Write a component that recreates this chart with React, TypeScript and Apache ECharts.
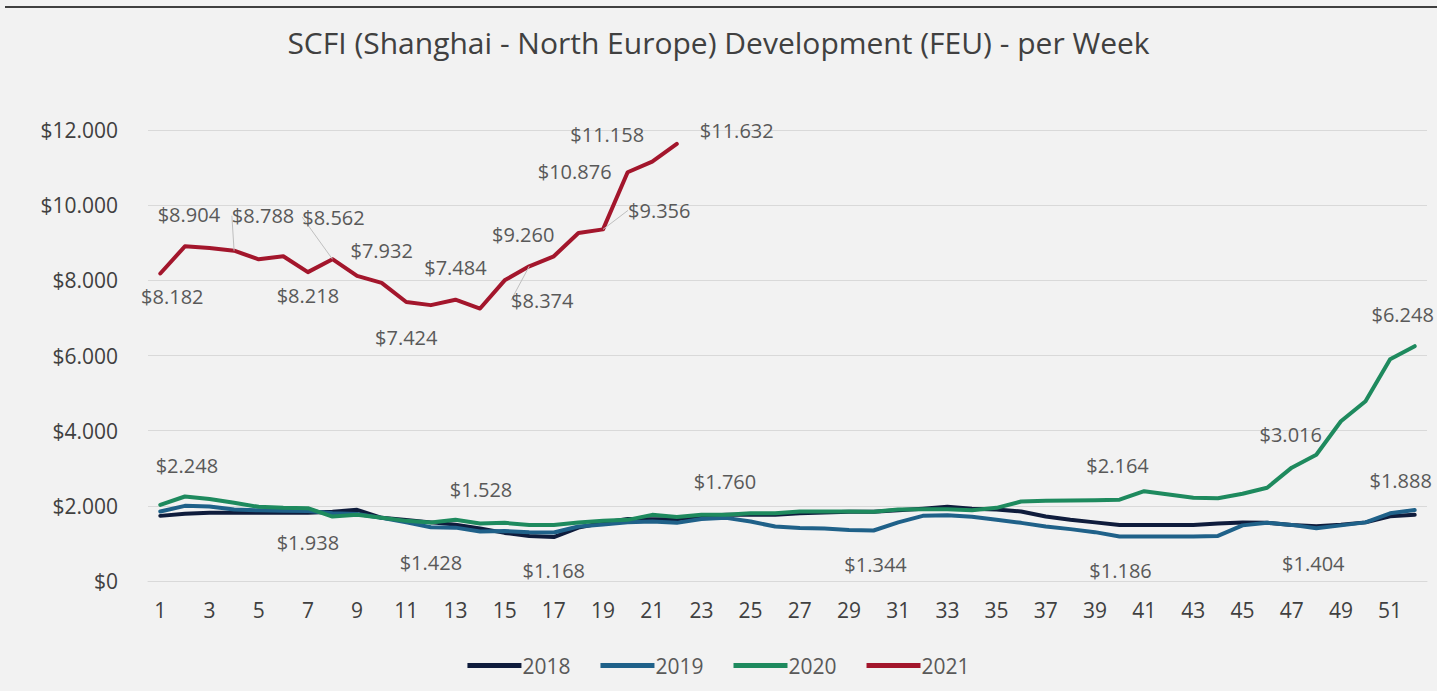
import React, { useEffect, useRef } from "react";
import * as echarts from "echarts";

const weeks: string[] = Array.from({ length: 52 }, (_, i) => String(i + 1));
const yTicks: number[] = [0, 2000, 4000, 6000, 8000, 10000, 12000];

const s2018: number[] = [1733, 1790, 1813, 1813, 1813, 1813, 1813, 1840, 1893, 1680, 1620, 1560, 1500, 1400, 1280, 1200, 1168, 1420, 1550, 1650, 1640, 1640, 1720, 1760, 1760, 1760, 1800, 1820, 1840, 1840, 1880, 1920, 1973, 1920, 1900, 1849, 1715, 1627, 1560, 1493, 1493, 1493, 1493, 1530, 1555, 1547, 1493, 1460, 1500, 1560, 1720, 1760];
const s2019: number[] = [1849, 2000, 1980, 1900, 1880, 1870, 1860, 1800, 1780, 1680, 1560, 1428, 1420, 1316, 1330, 1300, 1290, 1450, 1500, 1560, 1582, 1547, 1650, 1680, 1582, 1449, 1413, 1395, 1360, 1344, 1560, 1733, 1750, 1707, 1627, 1547, 1449, 1380, 1300, 1186, 1186, 1186, 1186, 1200, 1480, 1547, 1493, 1404, 1480, 1560, 1800, 1888];
const s2020: number[] = [2027, 2248, 2180, 2080, 1973, 1947, 1938, 1715, 1760, 1680, 1600, 1555, 1627, 1528, 1547, 1493, 1493, 1555, 1600, 1627, 1760, 1700, 1760, 1760, 1800, 1800, 1849, 1849, 1849, 1840, 1900, 1910, 1910, 1880, 1947, 2115, 2133, 2140, 2150, 2164, 2390, 2300, 2213, 2200, 2320, 2480, 3016, 3360, 4249, 4782, 5900, 6248];
const s2021: number[] = [8182, 8904, 8860, 8788, 8560, 8640, 8218, 8562, 8120, 7932, 7424, 7340, 7484, 7250, 8000, 8374, 8640, 9260, 9356, 10876, 11158, 11632];

const seriesNames: string[] = ["2018", "2019", "2020", "2021"];
const seriesValues: number[][] = [s2018, s2019, s2020, s2021];
const seriesColors: string[] = ["#0f1c3c", "#1f6189", "#1e8a5e", "#a3162c"];

// [series, week, position, dx, dy, leader line]
const labelSpecs: [string, number, string, number, number, boolean][] = [
  ["2021", 1, "bottom", 12, 8, false],
  ["2021", 2, "top", 4, -17, false],
  ["2021", 4, "top", 29, -20, true],
  ["2021", 7, "bottom", 0, 8, false],
  ["2021", 8, "top", 1, -27, true],
  ["2021", 10, "top", 0, -17, false],
  ["2021", 11, "bottom", 0, 21, false],
  ["2021", 13, "top", 0, -17, false],
  ["2021", 16, "bottom", 13, 19, true],
  ["2021", 18, "left", -19, 2, false],
  ["2021", 19, "right", 20, -19, true],
  ["2021", 20, "left", -11, -1, false],
  ["2021", 21, "top", -45, -12, false],
  ["2021", 22, "right", 18, -13, false],
  ["2020", 2, "top", 2, -16, false],
  ["2020", 7, "bottom", 0, 19, false],
  ["2020", 14, "top", 1, -19, false],
  ["2020", 24, "top", -1, -18, false],
  ["2020", 40, "top", -2, -19, false],
  ["2020", 47, "top", -1, -18, false],
  ["2020", 52, "top", -12, -17, false],
  ["2019", 12, "bottom", 0, 20, false],
  ["2019", 30, "bottom", 2, 19, false],
  ["2019", 40, "bottom", 1, 19, false],
  ["2019", 48, "bottom", -3, 20, false],
  ["2019", 52, "top", -14, -15, false],
  ["2018", 17, "bottom", 0, 18, false],
];

const fmt = (v: number) => (v === 0 ? "$0" : "$" + (v / 1000).toFixed(3));
const FONT = "Open Sans";

export default function App() {
  const ref = useRef<HTMLDivElement>(null);
  useEffect(() => {
    if (!ref.current) return;
    const chart = echarts.init(ref.current, null, { renderer: "svg" });
    const series = seriesNames.map((name, si) => {
      const specFor = (idx: number) => labelSpecs.find((s) => s[0] === name && s[1] === idx + 1);
      const data = seriesValues[si].map((v, i) => {
        const spec = specFor(i);
        if (!spec) return { value: v };
        return {
          value: v,
          label: {
            show: true,
            position: spec[2],
            distance: 5,
            formatter: (p: any) => fmt(p.value),
            color: "#595959",
            fontSize: 20,
            fontFamily: FONT,
          },
          labelLine: { show: spec[5] },
        };
      });
      return {
        name,
        type: "line",
        data,
        symbol: "circle",
        symbolSize: 0,
        showSymbol: true,
        showAllSymbol: true,
        lineStyle: { width: 4, color: seriesColors[si], cap: "round", join: "round" },
        itemStyle: { color: seriesColors[si] },
        labelLine: { show: false, lineStyle: { color: "#bfbfbf", width: 1 } },
        labelLayout: (p: any) => {
          const spec = specFor(p.dataIndex);
          return spec ? { dx: spec[3], dy: spec[4], hideOverlap: false } : {};
        },
        emphasis: { disabled: true },
        z: 2 + si,
      };
    });
    chart.setOption({
      animation: false,
      backgroundColor: "#f2f2f2",
      title: {
        text: "SCFI (Shanghai - North Europe) Development (FEU) - per Week",
        left: "center",
        top: 22,
        textStyle: { color: "#404040", fontSize: 30, fontWeight: "normal", fontFamily: FONT },
      },
      legend: {
        bottom: 10,
        left: "center",
        icon: "rect",
        itemWidth: 54,
        itemHeight: 5,
        itemGap: 30,
        textStyle: { color: "#595959", fontSize: 21, fontFamily: FONT, padding: [0, 0, 0, -4] },
        data: seriesNames,
      },
      grid: { left: 148, right: 10, top: 130, bottom: 110, containLabel: false },
      xAxis: {
        type: "category",
        data: weeks,
        boundaryGap: true,
        axisLine: { show: true, lineStyle: { color: "#d9d9d9", width: 1 } },
        axisTick: { show: false },
        axisLabel: { interval: 1, color: "#404040", fontSize: 21, margin: 18, fontFamily: FONT },
      },
      yAxis: {
        type: "value",
        min: yTicks[0],
        max: yTicks[yTicks.length - 1],
        interval: 2000,
        axisLine: { show: false },
        axisTick: { show: false },
        splitLine: { lineStyle: { color: "#d9d9d9", width: 1 } },
        axisLabel: { formatter: fmt, color: "#404040", fontSize: 21, margin: 30, fontFamily: FONT },
      },
      graphic: [
        { type: "line", shape: { x1: 5, y1: 7, x2: 1437, y2: 7 }, style: { stroke: "#404040", lineWidth: 2 } },
      ],
      series,
    });
    return () => chart.dispose();
  }, []);
  return <div ref={ref} style={{ position: "fixed", left: 0, top: 0, width: 1437, height: 691 }} />;
}
